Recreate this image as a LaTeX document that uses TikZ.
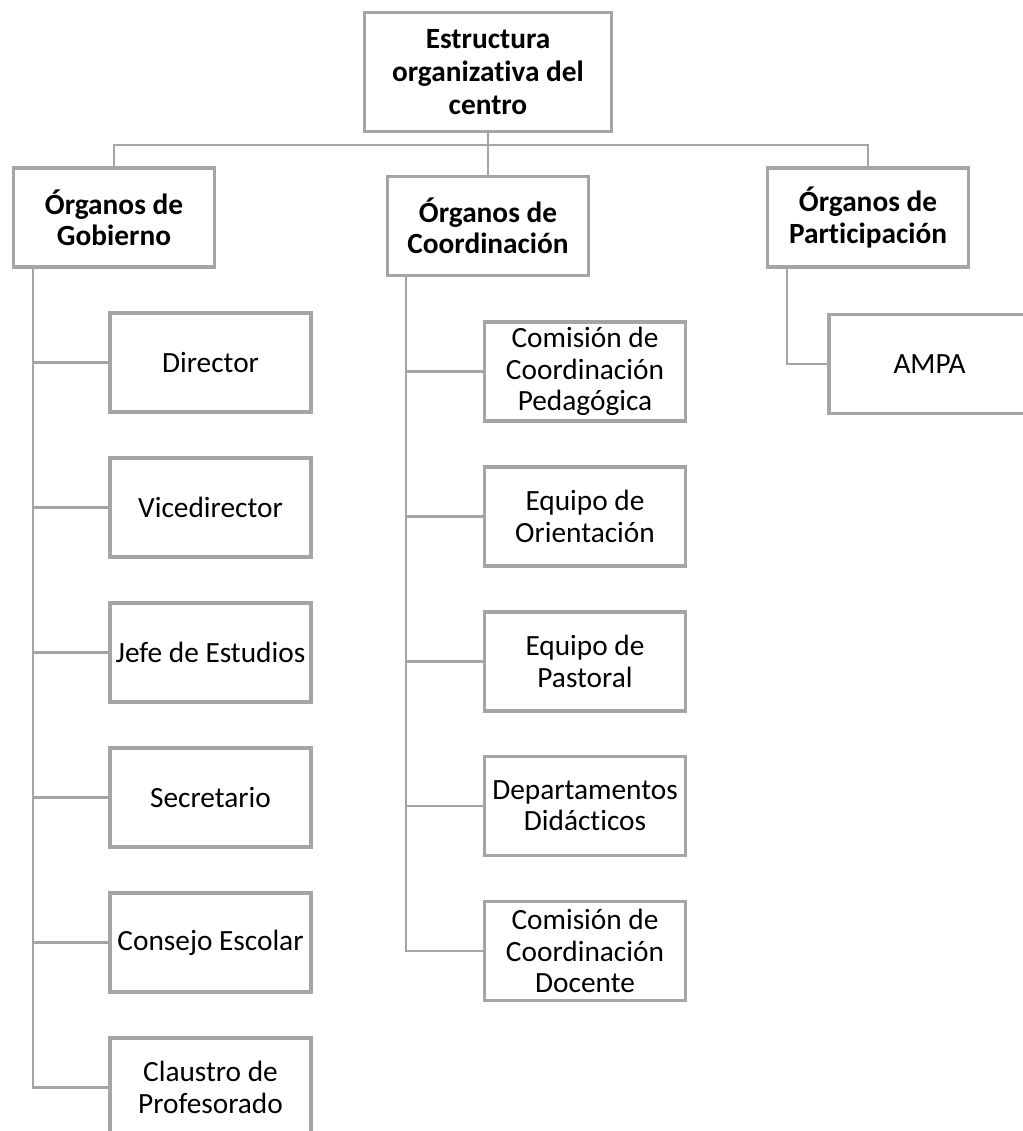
\documentclass[tikz,border=0pt]{standalone}
\usepackage{fontspec}
\setmainfont[Ligatures=NoCommon]{Carlito}
\definecolor{cLine}{RGB}{165,165,165}
\tikzset{
  box/.style={draw=cLine, fill=white, line width=2.6pt, align=center,
              text=black, inner sep=2pt, minimum width=151pt, minimum height=74pt,
              font={\fontsize{22}{23.5}\selectfont}},
  boxHead/.style={box, font={\fontsize{22}{23.5}\selectfont\bfseries}},
  boxTop/.style ={boxHead, minimum width=185pt, minimum height=89pt,
                  font={\fontsize{22}{24.5}\selectfont\bfseries}},
  link/.style={draw=cLine, line width=1.7pt},
}

\begin{document}
\begin{tikzpicture}[x=0.75pt, y=-0.75pt]
\clip (0,0) rectangle (1023,1131);

%% ============================================================
%% TOP LEVEL
%% ============================================================
\node[boxTop]  (root)  at (488, 72)   {Estructura\\organizativa del\\centro};

\node[boxHead] (gob)   at (114,217.5) {Órganos de\\Gobierno};
\node[boxHead] (coord) at (488,226)   {Órganos de\\Coordinación};
\node[boxHead] (part)  at (868,217.5) {Órganos de\\Participación};

\coordinate (bus) at (488,145);
\draw[link] (gob.north) |- (bus) -| (part.north);
\draw[link] (root.south) -- (coord.north);

%% ============================================================
%% ORGANOS DE GOBIERNO
%% ============================================================
\node[box] (director) at (210.5, 362.5) {Director};
\node[box] (vice)     at (210.5, 507.5) {Vicedirector};
\node[box] (jefe)     at (210.5, 652.5) {Jefe de Estudios};
\node[box] (secre)    at (210.5, 797.5) {Secretario};
\node[box] (consejo)  at (210.5, 942.5) {Consejo Escolar};
\node[box] (claustro) at (210.5,1087.5) {Claustro de\\Profesorado};

\coordinate (gspine) at (33,268);
\draw[link] (gspine) |- (claustro.west);
\draw[link] (director.west -| gspine) -- (director.west);
\draw[link] (vice.west -| gspine)     -- (vice.west);
\draw[link] (jefe.west -| gspine)     -- (jefe.west);
\draw[link] (secre.west -| gspine)    -- (secre.west);
\draw[link] (consejo.west -| gspine)  -- (consejo.west);

%% ============================================================
%% ORGANOS DE COORDINACION
%% ============================================================
\node[box] (ccp)      at (585, 371.5) {Comisión de\\Coordinación\\Pedagógica};
\node[box] (orient)   at (585, 516.5) {Equipo de\\Orientación};
\node[box] (pastoral) at (585, 661.5) {Equipo de\\Pastoral};
\node[box] (depto)    at (585, 806)   {Departamentos\\Didácticos};
\node[box] (ccd)      at (585, 951)   {Comisión de\\Coordinación\\Docente};

\coordinate (cspine) at (406,277);
\draw[link] (cspine) |- (ccd.west);
\draw[link] (ccp.west -| cspine)      -- (ccp.west);
\draw[link] (orient.west -| cspine)   -- (orient.west);
\draw[link] (pastoral.west -| cspine) -- (pastoral.west);
\draw[link] (depto.west -| cspine)    -- (depto.west);

%% ============================================================
%% ORGANOS DE PARTICIPACION
%% ============================================================
\node[box] (ampa) at (929.5,364) {AMPA};

\coordinate (pspine) at (787,269);
\draw[link] (pspine) |- (ampa.west);

\end{tikzpicture}
\end{document}
